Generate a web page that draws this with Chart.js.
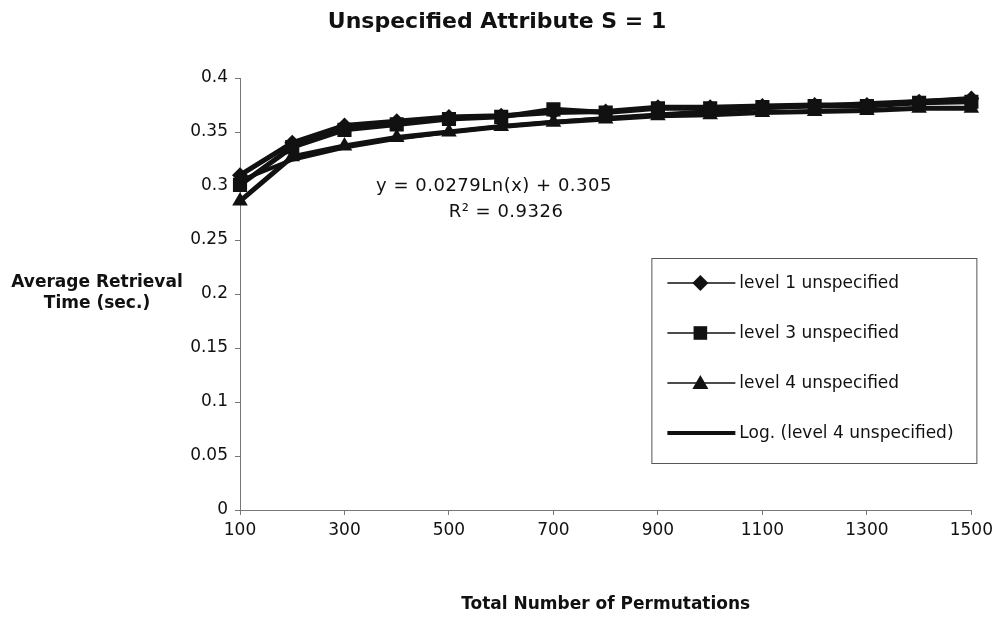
<html>

<head>
    <meta charset="utf-8" />
    <title>Unspecified Attribute S = 1</title>
    <script src="https://cdn.jsdelivr.net/npm/chart.js@4.4.1/dist/chart.umd.min.js"></script>
    <style>
        body { margin: 0; background: #fff; }
        #grafico { display: block; }
    </style>
</head>

<body>

    <canvas id="grafico" width="998" height="617"></canvas>

    <script>
        // permutacoes no eixo x
        const permutacoes = [100, 200, 300, 400, 500, 600, 700, 800, 900, 1000, 1100, 1200, 1300, 1400, 1500]

        // tempo medio de recuperacao (seg.)
        const nivel1 = [0.310, 0.340, 0.356, 0.360, 0.364, 0.365, 0.368, 0.369, 0.373, 0.373, 0.374, 0.375, 0.375, 0.378, 0.381]
        const nivel3 = [0.301, 0.336, 0.352, 0.357, 0.362, 0.364, 0.371, 0.368, 0.372, 0.372, 0.373, 0.374, 0.374, 0.377, 0.378]
        const nivel4 = [0.286, 0.327, 0.337, 0.345, 0.350, 0.355, 0.359, 0.362, 0.365, 0.366, 0.368, 0.369, 0.370, 0.372, 0.372]

        // linha de tendencia logaritmica do nivel 4
        const tendCoef = 0.0279
        const tendConst = 0.305
        const tendR2 = 0.9326
        const tendencia = permutacoes.map((p, i) => tendCoef * Math.log(i + 1) + tendConst)

        const eixoY = [0, 0.05, 0.1, 0.15, 0.2, 0.25, 0.3, 0.35, 0.4]

        const fonte = '"DejaVu Sans", Arial, sans-serif'

        function marcador(ctx, tipo, x, y, r) {
            ctx.beginPath()
            if (tipo == 'rectRot') {
                ctx.moveTo(x, y - r); ctx.lineTo(x + r, y); ctx.lineTo(x, y + r); ctx.lineTo(x - r, y)
            } else if (tipo == 'rect') {
                let s = r * 0.85
                ctx.rect(x - s, y - s, 2 * s, 2 * s)
            } else if (tipo == 'triangle') {
                ctx.moveTo(x, y - r); ctx.lineTo(x + r, y + r * 0.75); ctx.lineTo(x - r, y + r * 0.75)
            }
            ctx.closePath()
            ctx.fill()
        }

        // titulo, legenda, titulo do eixo y e equacao da tendencia
        const extras = {
            id: 'extras',
            afterDraw(chart) {
                const ctx = chart.ctx
                const area = chart.chartArea
                ctx.save()

                ctx.fillStyle = '#111'
                ctx.textAlign = 'center'
                ctx.textBaseline = 'middle'

                // titulo do grafico
                ctx.font = 'bold 22px ' + fonte
                ctx.fillText('Unspecified Attribute S = 1', 497, 22)

                // titulo do eixo y, na horizontal
                ctx.font = 'bold 17px ' + fonte
                ctx.fillText('Average Retrieval', 97, 283)
                ctx.fillText('Time (sec.)', 97, 304)

                // equacao
                ctx.font = '18px ' + fonte
                ctx.letterSpacing = '0.5px'
                ctx.fillText('y = ' + tendCoef + 'Ln(x) + ' + tendConst, 494, 186)
                ctx.fillText('R\u00b2 = ' + tendR2, 506, 212)
                ctx.letterSpacing = '0px'

                // caixa da legenda
                let lx = area.right - 320, ly = 258, lw = 325, lh = 205
                ctx.fillStyle = '#fff'
                ctx.fillRect(lx, ly, lw, lh)
                ctx.strokeStyle = '#555'
                ctx.lineWidth = 1
                ctx.strokeRect(lx + 0.5, ly + 0.5, lw, lh)

                chart.data.datasets.forEach((ds, i) => {
                    let y = ly + 25 + i * 50
                    ctx.strokeStyle = '#111'
                    ctx.fillStyle = '#111'
                    ctx.lineWidth = ds.pointRadius ? 1.5 : 4
                    ctx.beginPath()
                    ctx.moveTo(lx + 16, y)
                    ctx.lineTo(lx + 84, y)
                    ctx.stroke()
                    if (ds.pointRadius) marcador(ctx, ds.pointStyle, lx + 49, y, 8)
                    ctx.font = '17px ' + fonte
                    ctx.textAlign = 'left'
                    ctx.fillText(ds.label, lx + 88, y + 1)
                })
                ctx.restore()
            }
        }

        let dados = {
            type: 'line',
            data: {
                labels: permutacoes,
                datasets: [
                    {
                        label: 'level 1 unspecified',
                        data: nivel1,
                        pointStyle: 'rectRot',
                        pointRadius: 8
                    },
                    {
                        label: 'level 3 unspecified',
                        data: nivel3,
                        pointStyle: 'rect',
                        pointRadius: 10
                    },
                    {
                        label: 'level 4 unspecified',
                        data: nivel4,
                        pointStyle: 'triangle',
                        pointRadius: 9
                    },
                    {
                        label: 'Log. (level 4 unspecified)',
                        data: tendencia,
                        pointRadius: 0,
                        borderWidth: 4
                    }
                ]
            },
            options: {
                responsive: false,
                animation: false,
                layout: { padding: { top: 78, right: 26, bottom: 2, left: 0 } },
                elements: {
                    line: { borderColor: '#111', borderWidth: 5, tension: 0 },
                    point: { backgroundColor: '#111', borderColor: '#111', borderWidth: 0 }
                },
                plugins: {
                    legend: { display: false },
                    tooltip: { enabled: false },
                    title: { display: false }
                },
                scales: {
                    x: {
                        type: 'category',
                        offset: false,
                        afterFit(scale) { scale.height = 105 },
                        border: { color: '#777', width: 1 },
                        grid: {
                            drawOnChartArea: false,
                            tickLength: 5,
                            color: c => c.index % 2 == 0 ? '#777' : 'rgba(0,0,0,0)'
                        },
                        ticks: {
                            autoSkip: false,
                            maxRotation: 0,
                            padding: 5,
                            color: '#111',
                            font: { family: fonte, size: 17 },
                            callback: (v, i) => i % 2 == 0 ? permutacoes[i] : ''
                        },
                        title: {
                            display: true,
                            text: 'Total Number of Permutations',
                            color: '#111',
                            font: { family: fonte, size: 17, weight: 'bold' },
                            padding: { top: 0, bottom: 0 }
                        }
                    },
                    y: {
                        min: eixoY[0],
                        max: eixoY[eixoY.length - 1],
                        afterFit(scale) { scale.width = 240 },
                        afterBuildTicks(scale) { scale.ticks = eixoY.map(v => ({ value: v })) },
                        border: { color: '#777', width: 1 },
                        grid: { drawOnChartArea: false, tickLength: 5, color: '#777' },
                        ticks: {
                            padding: 7,
                            color: '#111',
                            font: { family: fonte, size: 17 },
                            callback: v => String(Number(v.toFixed(2)))
                        }
                    }
                }
            },
            plugins: [extras]
        }

        const grafico = new Chart(document.getElementById('grafico'), dados)

    </script>

</body>

</html>
